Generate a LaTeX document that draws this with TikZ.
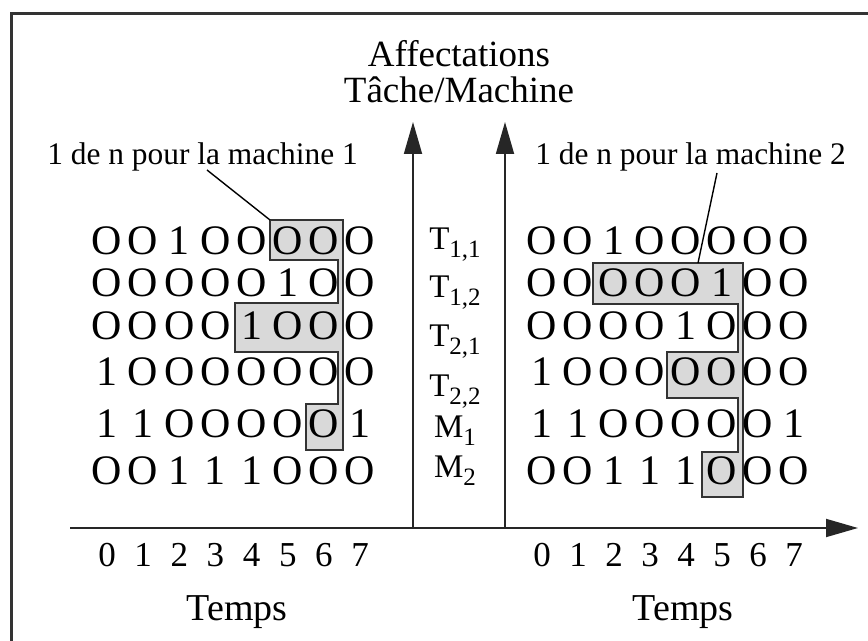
\documentclass[tikz,border=0pt]{standalone}
\usepackage{fontspec}
\setmainfont{Liberation Serif}
\usetikzlibrary{arrows.meta}
\usetikzlibrary{positioning}
\tikzstyle{cell} = [inner sep=0pt, anchor=base, font=\fontsize{21}{22}\selectfont]
\tikzstyle{rowlab} = [inner sep=0pt, anchor=base, font=\fontsize{16.5}{18}\selectfont]
\tikzstyle{tick} = [inner sep=0pt, anchor=base, font=\fontsize{17.5}{18}\selectfont]
\tikzstyle{title} = [inner sep=0pt, anchor=base, font=\fontsize{18.5}{20}\selectfont]
\tikzstyle{note} = [inner sep=0pt, anchor=base west, font=\fontsize{15.7}{17}\selectfont]
\tikzstyle{axis} = [line width=0.9pt, draw=black!85, -{Triangle[length=16pt,width=9pt]}]
\tikzstyle{onehot} = [fill=gray!30, draw=black!80, line width=0.9pt]
\tikzstyle{leader} = [line width=0.7pt]
\tikzstyle{frame} = [line width=1.5pt, draw=black!80]
\newcommand{\idx}[1]{\raisebox{-4pt}{\fontsize{12.5}{13}\selectfont #1}}

\begin{document}
\begin{tikzpicture}[x=0.5pt, y=-0.5pt]
\useasboundingbox (0,0) rectangle (868,641);
\clip (0,0) rectangle (868,641);
\draw[frame] (11,660) -- (11,14) -- (880,14);

% titre
\node[title] (tit1) at (459,67) {Affectations};
\node[title] (tit2) at (459,103) {Tâche/Machine};

% axes
\coordinate (o1) at (413,528);
\coordinate (o2) at (505,528);
\coordinate (y1) at (413,122);
\coordinate (y2) at (505,122);
\coordinate (x0) at (70,528);
\coordinate (x1) at (858,528);
\draw[axis] (o1) -- (y1);
\draw[axis] (o2) -- (y2);
\draw[axis] (x0) -- (x1);

% zones 1 de n
\coordinate (a1) at (270,220);
\coordinate (a2) at (698,263);
\draw[onehot] (a1) -- (343,220) -- (343,450) -- (306,450) -- (306,404)
  -- (338,404) -- (338,352) -- (235,352) -- (235,303) -- (338,303)
  -- (338,260) -- (270,260) -- cycle;
\draw[onehot] (593,263) -- (743,263) -- (743,497) -- (702,497) -- (702,452)
  -- (738,452) -- (738,398) -- (667,398) -- (667,352) -- (738,352)
  -- (738,304) -- (593,304) -- cycle;

% matrices
\foreach \r/\y/\bits in {1/255/{O,O,1,O,O,O,O,O}, 2/297/{O,O,O,O,O,1,O,O},
    3/340/{O,O,O,O,1,O,O,O}, 4/386/{1,O,O,O,O,O,O,O},
    5/438/{1,1,O,O,O,O,O,1}, 6/485/{O,O,1,1,1,O,O,O}} {
  \foreach \b [count=\c from 0] in \bits {
    \node[cell] (L\r-\c) at ({107+36.15*\c},\y) {\b};
    \node[cell] (R\r-\c) at ({542+36*\c},\y) {\b};
  }
}

% lignes
\node[rowlab] (t11) at (455,250) {T\idx{1,1}};
\node[rowlab] (t12) at (455,298) {T\idx{1,2}};
\node[rowlab] (t21) at (455,347) {T\idx{2,1}};
\node[rowlab] (t22) at (455,397) {T\idx{2,2}};
\node[rowlab] (m1) at (455,438) {M\idx{1}};
\node[rowlab] (m2) at (455,478) {M\idx{2}};

% temps
\foreach \c in {0,...,7} {
  \node[tick] (tL\c) at ({107+36.15*\c},567) {\c};
  \node[tick] (tR\c) at ({542+36*\c},567) {\c};
}
\node[title, font=\fontsize{19}{21}\selectfont] (temps1) at (237,620) {Temps};
\node[title, font=\fontsize{19}{21}\selectfont] (temps2) at (683,620) {Temps};

% legendes
\node[note] (lab1) at (47,165) {1 de n pour la machine 1};
\node[note] (lab2) at (535,165) {1 de n pour la machine 2};
\coordinate (b1) at (207,170);
\coordinate (b2) at (717,173);
\draw[leader] (b1) -- (a1);
\draw[leader] (b2) -- (a2);
\end{tikzpicture}
\end{document}
